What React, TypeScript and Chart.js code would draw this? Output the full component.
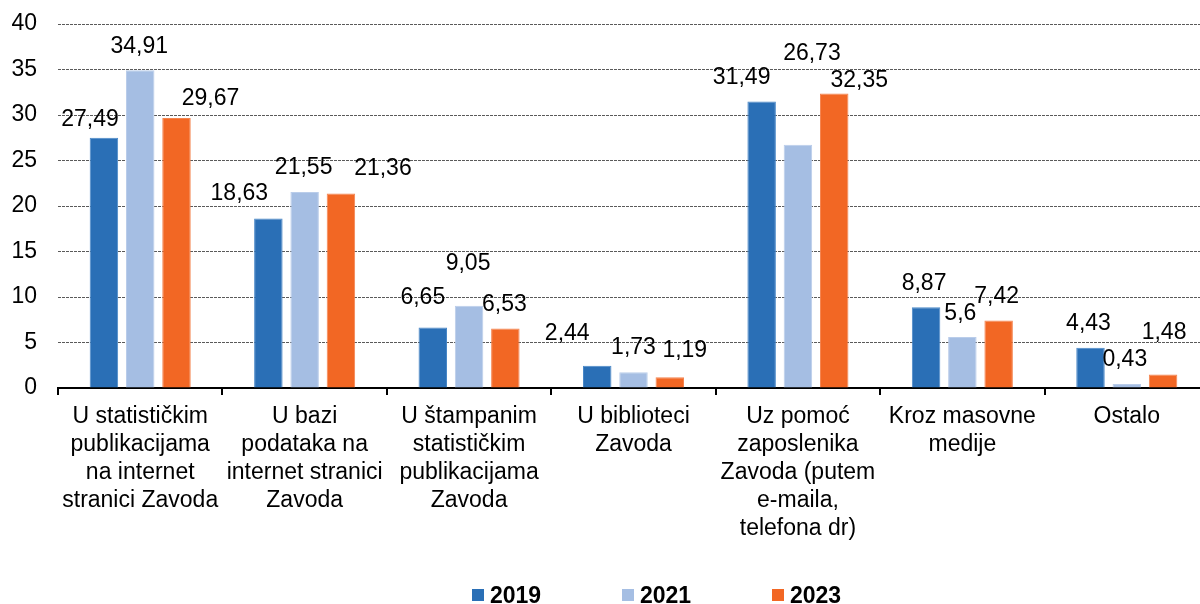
import React, { useEffect, useRef } from "react";
import { Chart, registerables } from "chart.js";

Chart.register(...registerables);

const CATEGORIES: string[][] = [
  ["U statističkim", "publikacijama", "na internet", "stranici Zavoda"],
  ["U bazi", "podataka na", "internet stranici", "Zavoda"],
  ["U štampanim", "statističkim", "publikacijama", "Zavoda"],
  ["U biblioteci", "Zavoda"],
  ["Uz pomoć", "zaposlenika", "Zavoda (putem", "e-maila,", "telefona dr)"],
  ["Kroz masovne", "medije"],
  ["Ostalo"],
];

const SERIES_LABELS = ["2019", "2021", "2023"];
const VALUES_2019 = [27.49, 18.63, 6.65, 2.44, 31.49, 8.87, 4.43];
const VALUES_2021 = [34.91, 21.55, 9.05, 1.73, 26.73, 5.6, 0.43];
const VALUES_2023 = [29.67, 21.36, 6.53, 1.19, 32.35, 7.42, 1.48];

const Y_MIN = 0;
const Y_MAX = 40;
const Y_STEP = 5;

const COLORS = ["#2A6FB6", "#A5BEE3", "#F26724"];
const BORDER_COLORS = ["#4A88C8", "#BACDEA", "#F5844F"];

// label centre offsets relative to the top-centre of each bar (px)
const LABEL_OFFSETS: number[][][] = [
  [[-14, -18], [-29, -25], [-10, -30], [-30, -32], [-20, -24], [-2, -24], [-2, -24]],
  [[-1, -24], [-1, -24], [-1, -42], [0, -25], [14, -91], [-2, -23], [-2, -24]],
  [[34, -19], [42, -25], [-1, -24], [15, -27], [25, -13], [-2, -24], [1, -42]],
];

const FONT = '"Liberation Sans", Arial, Helvetica, sans-serif';

const fmt = (v: number) => String(v).replace(".", ",");

const valueLabels = {
  id: "valueLabels",
  afterDatasetsDraw(chart: any) {
    const ctx = chart.ctx;
    ctx.save();
    ctx.font = `23px ${FONT}`;
    ctx.fillStyle = "#000";
    ctx.textAlign = "center";
    ctx.textBaseline = "middle";
    chart.data.datasets.forEach((ds: any, di: number) => {
      const meta = chart.getDatasetMeta(di);
      meta.data.forEach((bar: any, i: number) => {
        const off = LABEL_OFFSETS[di][i];
        ctx.fillText(fmt(ds.data[i]), bar.x + off[0], bar.y + off[1]);
      });
    });
    ctx.restore();
  },
};

const customLegend = {
  id: "customLegend",
  afterDraw(chart: any) {
    const ctx = chart.ctx;
    ctx.save();
    ctx.font = `bold 23px ${FONT}`;
    ctx.textAlign = "left";
    ctx.textBaseline = "alphabetic";
    chart.data.datasets.forEach((ds: any, di: number) => {
      const x0 = 472 + di * 150;
      ctx.fillStyle = ds.backgroundColor;
      ctx.fillRect(x0, 589, 12, 12);
      ctx.fillStyle = "#000";
      ctx.fillText(ds.label, x0 + 18, 603);
    });
    ctx.restore();
  },
};

export default function App() {
  const ref = useRef<HTMLCanvasElement | null>(null);

  useEffect(() => {
    if (!ref.current) return;
    Chart.defaults.font.family = FONT;
    const seriesValues = [VALUES_2019, VALUES_2021, VALUES_2023];
    const chart = new Chart(ref.current, {
      type: "bar",
      data: {
        labels: CATEGORIES,
        datasets: SERIES_LABELS.map((label, i) => ({
          label,
          data: seriesValues[i],
          backgroundColor: COLORS[i],
          borderColor: BORDER_COLORS[i],
          borderWidth: 1,
          borderSkipped: "bottom",
          categoryPercentage: 0.662,
          barPercentage: 0.785,
        })),
      },
      options: {
        responsive: false,
        animation: false,
        devicePixelRatio: 1,
        layout: { padding: { top: 24, left: 0, right: 6, bottom: 0 } },
        plugins: {
          legend: { display: false },
          tooltip: { enabled: false },
        },
        scales: {
          x: {
            offset: true,
            grid: {
              display: true,
              drawOnChartArea: false,
              drawTicks: true,
              tickLength: 7,
              color: "#000",
              lineWidth: 2,
              offset: true,
            },
            border: { display: true, color: "#000", width: 2 },
            ticks: {
              autoSkip: false,
              maxRotation: 0,
              minRotation: 0,
              padding: 8,
              color: "#000",
              font: { size: 23, lineHeight: 28 / 23 },
            },
            afterFit: (scale: any) => {
              scale.height = 216;
              scale.paddingLeft = 0;
              scale.paddingRight = 0;
            },
          },
          y: {
            min: Y_MIN,
            max: Y_MAX,
            ticks: {
              stepSize: Y_STEP,
              padding: 21,
              color: "#000",
              font: { size: 23 },
            },
            grid: {
              drawTicks: false,
              color: "#5a5a5a",
              lineWidth: 1,
            },
            border: { display: false, dash: [3, 1] },
            afterFit: (scale: any) => {
              scale.width = 58;
              scale.paddingTop = 0;
              scale.paddingBottom = 0;
            },
          },
        },
      },
      plugins: [valueLabels, customLegend],
    } as any);
    return () => chart.destroy();
  }, []);

  return (
    <div
      style={{
        position: "absolute",
        left: 0,
        top: 0,
        width: 1200,
        height: 604,
        overflow: "hidden",
        background: "#fff",
      }}
    >
      <canvas
        ref={ref}
        width={1215}
        height={604}
        style={{ width: 1215, height: 604, display: "block" }}
      />
    </div>
  );
}
